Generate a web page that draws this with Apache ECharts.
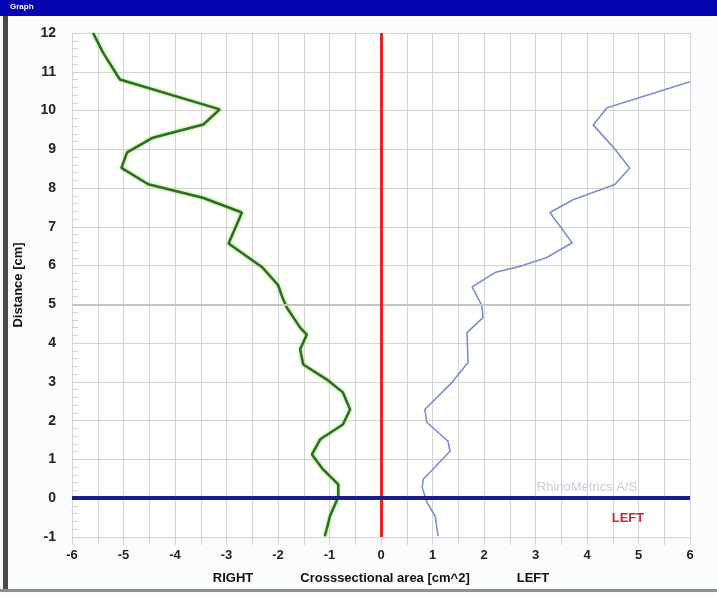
<!DOCTYPE html>
<html>
<head>
<meta charset="utf-8">
<script src="https://cdn.jsdelivr.net/npm/echarts@6/dist/echarts.min.js"></script>
<style>
html,body{margin:0;padding:0;background:#fbfcfe;}
#c{width:717px;height:596px;}
</style>
</head>
<body>
<div id="c"></div>
<script>
// Right side (green) profile: distance [cm] and cross-sectional area [cm^2] (negative = RIGHT)
const rightDist = [12, 11.5, 10.8, 10.03, 9.64, 9.3, 8.92, 8.52, 8.1, 7.75, 7.37, 6.57, 5.95, 5.5, 5.2, 4.92, 4.4, 4.22, 3.84, 3.45, 3.06, 2.73, 2.29, 1.9, 1.52, 1.13, 0.75, 0.36, 0.03, -0.46, -0.98];
const rightArea = [-5.59, -5.40, -5.07, -3.13, -3.45, -4.43, -4.93, -5.04, -4.52, -3.46, -2.70, -2.96, -2.30, -2.0, -1.92, -1.83, -1.57, -1.44, -1.57, -1.51, -1.05, -0.74, -0.60, -0.74, -1.18, -1.34, -1.13, -0.83, -0.83, -0.99, -1.09];
// Left side (blue) profile
const leftDist = [10.74, 10.07, 9.63, 9.07, 8.52, 8.09, 7.70, 7.37, 6.59, 6.21, 6.0, 5.82, 5.45, 4.97, 4.66, 4.27, 3.5, 2.99, 2.29, 1.96, 1.47, 1.21, 0.49, 0.28, -0.10, -0.46, -0.98];
const leftArea = [6.0, 4.39, 4.12, 4.50, 4.83, 4.54, 3.73, 3.28, 3.71, 3.22, 2.75, 2.21, 1.77, 1.96, 1.98, 1.67, 1.69, 1.38, 0.85, 0.89, 1.30, 1.34, 0.82, 0.80, 0.89, 1.05, 1.11];
// Axis ranges / ticks
const xMin = -6, xMax = 6, xStep = 0.5;
const yMin = -1, yMax = 12, yStep = 1;
const centerX = 0, baseY = 0, emphY = 5;

const chart = echarts.init(document.getElementById('c'));
const pair = (xs, ys) => xs.map((x, i) => [x, ys[i]]);

chart.setOption({
  animation: false,
  backgroundColor: '#fbfcfe',
  grid: {left: 72, right: 27, top: 33, bottom: 59, backgroundColor: '#ffffff', show: true, borderWidth: 0},
  xAxis: {
    type: 'value', min: xMin, max: xMax, interval: xStep,
    axisLine: {show: false, onZero: false},
    axisTick: {show: true, length: 8, lineStyle: {color: '#d4d4d4'}},
    splitLine: {show: true, lineStyle: {color: '#d4d4d4', width: 1}},
    axisLabel: {
      margin: 12, color: '#222', fontWeight: 'bold', fontSize: 13, fontFamily: 'Liberation Sans, Arial',
      formatter: v => (Number.isInteger(v) ? String(v) : '')
    }
  },
  yAxis: {
    type: 'value', min: yMin, max: yMax, interval: yStep,
    name: 'Distance [cm]', nameLocation: 'middle', nameGap: 47, nameRotate: 90,
    nameTextStyle: {color: '#111', fontWeight: 'bold', fontSize: 13, fontFamily: 'Liberation Sans, Arial'},
    axisLine: {show: false, onZero: false},
    axisTick: {show: true, inside: true, length: 6, lineStyle: {color: '#d4d4d4'}},
    minorTick: {show: true, splitNumber: 5, length: 6, lineStyle: {color: '#d0d0d0'}},
    splitLine: {show: true, lineStyle: {color: '#d4d4d4', width: 1}},
    axisLabel: {margin: 16, color: '#222', fontWeight: 'bold', fontSize: 14, fontFamily: 'Liberation Sans, Arial'}
  },
  series: [
    {
      type: 'line', data: pair(rightArea, rightDist), symbol: 'none', smooth: false,
      lineStyle: {color: '#2f6e1f', width: 2.5, shadowColor: '#8be05a', shadowBlur: 3},
      markLine: {
        silent: true, symbol: 'none', label: {show: false},
        data: [
          {yAxis: emphY, lineStyle: {color: '#c4c4c4', width: 2, type: 'solid'}}
        ]
      },
      z: 3
    },
    {
      type: 'line', data: pair(leftArea, leftDist), symbol: 'none', smooth: false,
      lineStyle: {color: '#7d8ec8', width: 1.6},
      markLine: {
        silent: true, symbol: 'none', label: {show: false},
        data: [
          {xAxis: centerX, lineStyle: {color: '#e5241c', width: 3, type: 'solid'}},
          {yAxis: baseY, lineStyle: {color: '#1c1c8e', width: 4, type: 'solid'}}
        ]
      },
      z: 4
    }
  ],
  graphic: [
    {type: 'rect', left: 0, top: 0, shape: {width: 717, height: 16}, style: {fill: '#0404b0'}, z: 10},
    {type: 'text', left: 10, top: 3, style: {text: 'Graph', fill: '#ffffff', font: 'bold 8px Liberation Sans, Arial'}, z: 11},
    {type: 'rect', left: 3, top: 16, shape: {width: 5, height: 574}, style: {fill: '#4a4a4a'}, z: 10},
    {type: 'rect', left: 0, top: 589, shape: {width: 717, height: 3}, style: {fill: '#8a9090'}, z: 10},
    {type: 'text', x: 587, y: 487, style: {text: 'RhinoMetrics A/S', fill: '#c9cdd6', font: '13px Liberation Sans, Arial', align: 'center', verticalAlign: 'middle'}, z: 5},
    {type: 'text', x: 628, y: 518, style: {text: 'LEFT', fill: '#c8283c', font: 'bold 13px Liberation Sans, Arial', align: 'center', verticalAlign: 'middle'}, z: 5},
    {type: 'text', x: 233, y: 578, style: {text: 'RIGHT', fill: '#111', font: 'bold 13px Liberation Sans, Arial', align: 'center', verticalAlign: 'middle'}, z: 5},
    {type: 'text', x: 385, y: 578, style: {text: 'Crosssectional area [cm^2]', fill: '#111', font: 'bold 13px Liberation Sans, Arial', align: 'center', verticalAlign: 'middle'}, z: 5},
    {type: 'text', x: 533, y: 578, style: {text: 'LEFT', fill: '#111', font: 'bold 13px Liberation Sans, Arial', align: 'center', verticalAlign: 'middle'}, z: 5}
  ]
});
</script>
</body>
</html>
